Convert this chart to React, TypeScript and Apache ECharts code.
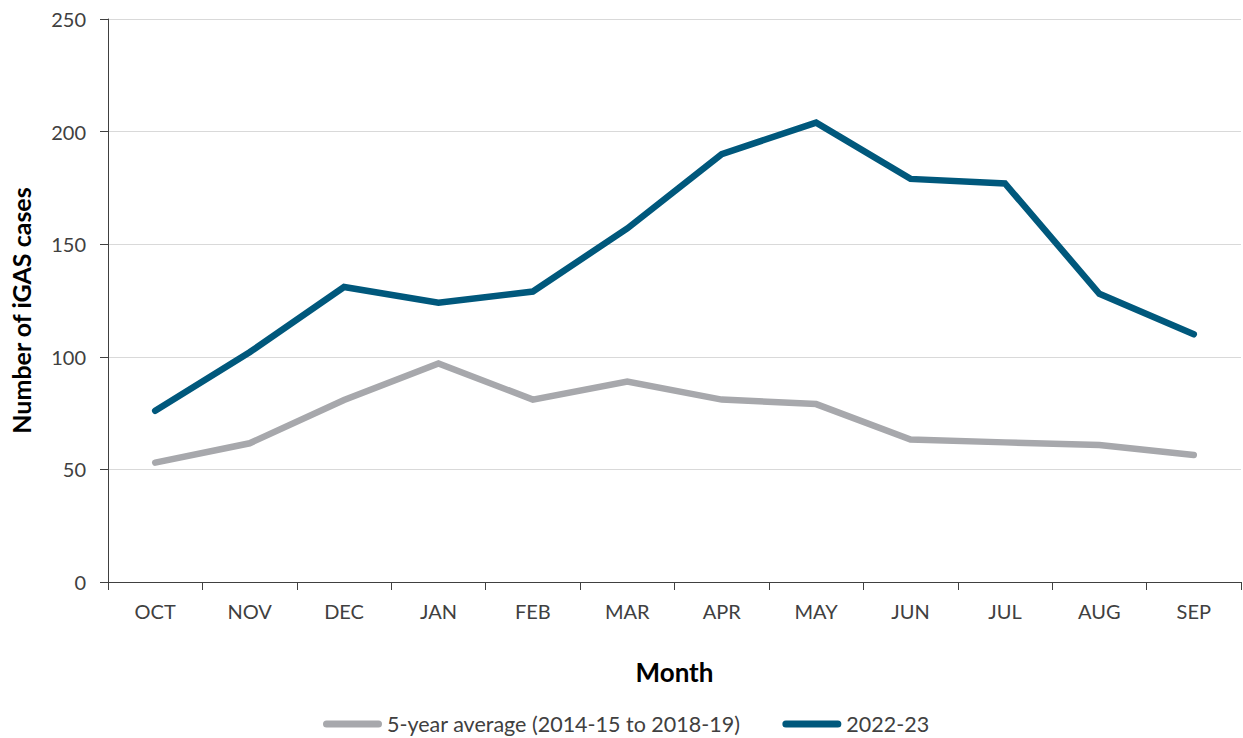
import React, { useEffect, useRef } from "react";
import * as echarts from "echarts";

const months = ["OCT", "NOV", "DEC", "JAN", "FEB", "MAR", "APR", "MAY", "JUN", "JUL", "AUG", "SEP"];
const fiveYearAverage = [53, 61.6, 80.8, 97, 81, 89, 81, 79, 63.3, 62, 60.8, 56.4];
const season2022 = [76, 102, 131, 124, 129, 157, 190, 204, 179, 177, 128, 110];
const yTicks = { min: 0, max: 250, interval: 50 };
const seriesNames = ["5-year average (2014-15 to 2018-19)", "2022-23"];
const xTitle = "Month";
const yTitle = "Number of iGAS cases";

const GRAY = "#A7A8AC";
const BLUE = "#00587C";
const TEXT = "#404040";
const FONT = "Lato";
const capsule = "path://M3.5,0L55.5,0A3.5,3.5,0,0,1,55.5,7L3.5,7A3.5,3.5,0,0,1,3.5,0Z";

export default function App() {
  const ref = useRef<HTMLDivElement>(null);
  useEffect(() => {
    if (!ref.current) return;
    const chart = echarts.init(ref.current, undefined, { renderer: "svg" });
    chart.setOption({
      animation: false,
      backgroundColor: "#ffffff",
      textStyle: { fontFamily: FONT },
      grid: { left: 108, right: 2, top: 19, bottom: 156, containLabel: false },
      legend: {
        left: 323,
        top: 713,
        padding: 0,
        itemGap: 42,
        itemWidth: 59,
        itemHeight: 7,
        textStyle: { fontFamily: FONT, fontSize: 21.5, color: TEXT },
        data: [
          { name: seriesNames[0], icon: capsule },
          { name: seriesNames[1], icon: capsule },
        ],
      },
      xAxis: {
        type: "category",
        data: months,
        boundaryGap: true,
        name: xTitle,
        nameLocation: "middle",
        nameGap: 77,
        nameTextStyle: { fontFamily: FONT, fontSize: 26, fontWeight: "bold", color: "#000" },
        axisLine: { show: true, lineStyle: { color: TEXT, width: 1 } },
        axisTick: { show: true, length: 8, alignWithLabel: false, lineStyle: { color: TEXT } },
        axisLabel: { fontFamily: FONT, fontSize: 20, color: TEXT, margin: 19 },
        splitLine: { show: false },
      },
      yAxis: {
        type: "value",
        min: yTicks.min,
        max: yTicks.max,
        interval: yTicks.interval,
        name: yTitle,
        nameLocation: "middle",
        nameRotate: 90,
        nameGap: 75,
        nameTextStyle: {
          fontFamily: FONT,
          fontSize: 25,
          fontWeight: "bold",
          color: "#000",
          padding: [0, 20, 0, 0],
        },
        axisLine: { show: true, lineStyle: { color: TEXT, width: 1 } },
        axisTick: { show: true, length: 8, lineStyle: { color: TEXT } },
        axisLabel: { fontFamily: FONT, fontSize: 20, color: TEXT, margin: 22 },
        splitLine: { show: true, lineStyle: { color: "#D9D9D9", width: 1 } },
      },
      series: [
        {
          name: seriesNames[0],
          type: "line",
          data: fiveYearAverage,
          symbol: "none",
          color: GRAY,
          itemStyle: { color: GRAY },
          lineStyle: { color: GRAY, width: 6.5, cap: "round", join: "miter" },
        },
        {
          name: seriesNames[1],
          type: "line",
          data: season2022,
          symbol: "none",
          color: BLUE,
          itemStyle: { color: BLUE },
          lineStyle: { color: BLUE, width: 6.5, cap: "round", join: "miter" },
        },
      ],
    });
    return () => chart.dispose();
  }, []);
  return (
    <div
      ref={ref}
      style={{ position: "fixed", left: 0, top: 0, width: 1243, height: 738, background: "#fff" }}
    />
  );
}
